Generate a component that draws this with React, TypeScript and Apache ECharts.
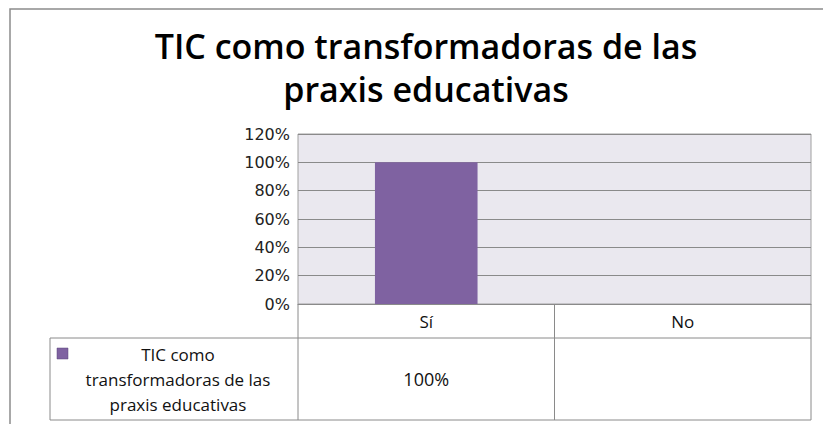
import React, { useEffect, useRef } from "react";
import * as echarts from "echarts";

const titleLines = ["TIC como transformadoras de las", "praxis educativas"];
const categories = ["Sí", "No"];
const seriesName = "TIC como transformadoras de las praxis educativas";
const seriesLabelLines = ["TIC como", "transformadoras de las", "praxis educativas"];
const values: (number | null)[] = [100, null];
const yMin = 0;
const yMax = 120;
const yStep = 20;

const W = 823;
const H = 424;
const gridLeft = 298;
const gridTop = 134;
const gridRight = 811;
const gridBottom = 304;
const rowSplit = 338;
const tableBottom = 420;
const legendLeft = 50;
const purple = "#7F62A1";
const lineColor = "#8a8a8a";
const smallFont = "'Open Sans', 'Noto Sans', sans-serif";

export default function App() {
  const ref = useRef<HTMLDivElement>(null);
  useEffect(() => {
    document.body.style.margin = "0";
    const chart = echarts.init(ref.current!, null, { renderer: "svg" });
    const colW = (gridRight - gridLeft) / categories.length;
    const tableLines: any[] = [];
    const hl = (x1: number, x2: number, y: number) =>
      tableLines.push({ type: "line", shape: { x1, y1: y, x2, y2: y }, style: { stroke: lineColor, lineWidth: 1 } });
    const vl = (x: number, y1: number, y2: number) =>
      tableLines.push({ type: "line", shape: { x1: x, y1, x2: x, y2 }, style: { stroke: lineColor, lineWidth: 1 } });
    hl(legendLeft, gridRight, rowSplit);
    hl(legendLeft, gridRight, tableBottom);
    vl(legendLeft, rowSplit, tableBottom);
    for (let i = 0; i <= categories.length; i++) vl(gridLeft + colW * i, gridBottom, tableBottom);

    const cellTexts = values.map((v, i) => ({
      type: "text",
      style: {
        text: v == null ? "" : `${v}%`,
        x: gridLeft + colW * (i + 0.5),
        y: (rowSplit + tableBottom) / 2,
        align: "center",
        verticalAlign: "middle",
        font: `18px ${smallFont}`,
        fill: "#111",
      },
    }));

    chart.setOption({
      animation: false,
      backgroundColor: "#ffffff",
      graphic: [
        {
          type: "rect",
          shape: { x: 10, y: 9, width: 900, height: 500 },
          style: { fill: "none", stroke: "#8c8c8c", lineWidth: 1.5 },
          silent: true,
        },
        {
          type: "text",
          style: {
            text: titleLines.join("\n"),
            x: 426,
            y: 24,
            align: "center",
            verticalAlign: "top",
            font: "600 34px 'Open Sans', 'Noto Sans', sans-serif",
            lineHeight: 43,
            fill: "#000",
          },
        },
        ...tableLines,
        {
          type: "rect",
          shape: { x: 57, y: 348, width: 11, height: 11 },
          style: { fill: purple, stroke: "#5a4478", lineWidth: 0.5 },
        },
        {
          type: "text",
          style: {
            text: seriesLabelLines.join("\n"),
            x: 178,
            y: (rowSplit + tableBottom) / 2,
            align: "center",
            verticalAlign: "middle",
            font: `17px ${smallFont}`,
            lineHeight: 25,
            fill: "#111",
          },
        },
        ...cellTexts,
      ],
      grid: {
        left: gridLeft,
        top: gridTop,
        right: W - gridRight,
        bottom: H - gridBottom,
        show: true,
        backgroundColor: "#EAE8EF",
        borderColor: "#a0a0a0",
        borderWidth: 1,
      },
      xAxis: {
        type: "category",
        data: categories,
        axisLine: { show: true, lineStyle: { color: lineColor } },
        axisTick: { show: false },
        axisLabel: { margin: 9, fontSize: 17, fontFamily: smallFont, color: "#111" },
        splitLine: { show: false },
      },
      yAxis: {
        type: "value",
        min: yMin,
        max: yMax,
        interval: yStep,
        axisLine: { show: false },
        axisTick: { show: false },
        axisLabel: {
          formatter: "{value}%",
          margin: 8,
          fontSize: 16,
          fontFamily: "'DejaVu Sans', sans-serif",
          color: "#222",
        },
        splitLine: { show: true, lineStyle: { color: lineColor, width: 1 } },
      },
      series: [
        {
          name: seriesName,
          type: "bar",
          data: values,
          barWidth: "40%",
          itemStyle: { color: purple },
        },
      ],
    });
    return () => chart.dispose();
  }, []);
  return <div ref={ref} style={{ width: W, height: H }} />;
}
